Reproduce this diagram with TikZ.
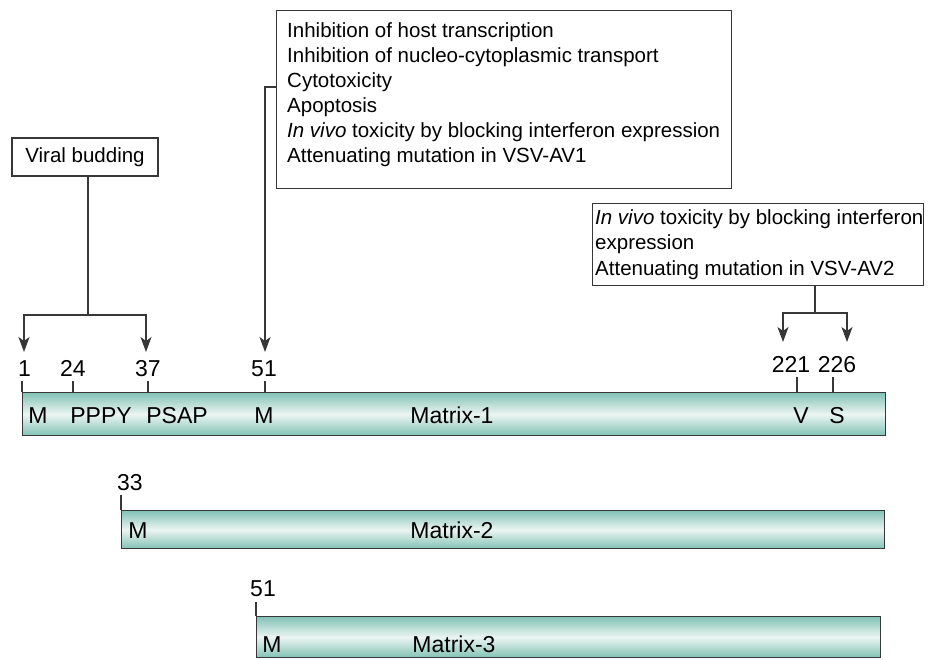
\documentclass[tikz,border=0pt]{standalone}
\usepackage{fontspec}
\setmainfont{Liberation Sans}
\usetikzlibrary{arrows.meta}
\definecolor{barC}{RGB}{130,194,182}
\definecolor{barL}{RGB}{236,245,242}
\definecolor{lineC}{RGB}{55,55,55}
\begin{document}
\begin{tikzpicture}[x=1pt,y=-1pt,
  every node/.style={font=\fontsize{20.5}{25.5}\selectfont, text=black},
  bar/.style={draw=lineC, line width=1.3pt, top color=barC, bottom color=barC, middle color=barL, inner sep=0pt, anchor=north west},
  lab/.style={anchor=base, inner sep=0pt, font=\fontsize{23}{26}\selectfont},
  num/.style={anchor=base, inner sep=0pt, font=\fontsize{23}{26}\selectfont},
  boxn/.style={draw=lineC, line width=1.1pt, inner sep=0pt},
  tickl/.style={draw=lineC, line width=1.2pt},
  conn/.style={draw=lineC, line width=1.2pt},
  arr/.style={conn, -{Stealth[length=15pt,width=11pt,inset=4pt]}}
]
\useasboundingbox (0,0) rectangle (933,659);

% bars
\node[bar, minimum width=863pt, minimum height=43pt] (bar1) at (22,392) {};
\node[bar, minimum width=763pt, minimum height=38pt] (bar2) at (121,510) {};
\node[bar, minimum width=624pt, minimum height=41pt] (bar3) at (256,616) {};

% ticks bar 1
\draw[tickl] (22,381) -- (22,392);
\draw[tickl] (73,381) -- (73,392);
\draw[tickl] (148,381) -- (148,392);
\draw[tickl] (265,381) -- (265,392);
\draw[tickl] (797,377) -- (797,392);
\draw[tickl] (833,377) -- (833,392);
% ticks bar 2 and 3
\draw[tickl] (121,495) -- (121,510);
\draw[tickl] (256,602) -- (256,616);

% numbers
\node[num] (n1) at (24.5,376) {1};
\node[num] (n24) at (73,376) {24};
\node[num] (n37) at (148,376) {37};
\node[num] (n51) at (264,376) {51};
\node[num] (n221) at (791,372) {221};
\node[num] (n226) at (837,372) {226};
\node[num] (n33) at (130,490) {33};
\node[num] (n51b) at (263,596) {51};

% bar labels
\node[lab] (m1) at (38,423) {M};
\node[lab] (pppy) at (101,423) {PPPY};
\node[lab] (psap) at (177,423) {PSAP};
\node[lab] (m51) at (264,423) {M};
\node[lab] (mx1) at (452,423) {Matrix-1};
\node[lab] (v221) at (801,423) {V};
\node[lab] (s226) at (837,423) {S};
\node[lab] (m2) at (138,538) {M};
\node[lab] (mx2) at (452,538) {Matrix-2};
\node[lab] (m3) at (272,652) {M};
\node[lab] (mx3) at (454,652) {Matrix-3};

% viral budding box
\node[boxn, minimum width=146pt, minimum height=38pt] (vb) at (85,157) {Viral budding};
\coordinate (vbj) at (88,315);
\coordinate (a1) at (24,352);
\coordinate (a37) at (146,352);
\draw[conn] (vb.south -| vbj) -- (vbj);
\draw[arr] (vbj) -| (a1);
\draw[arr] (vbj) -| (a37);

% big function box
\node[boxn, anchor=north west, minimum width=455pt, minimum height=178pt] (fx) at (276,10) {};
\node[anchor=north west, inner sep=0pt, align=left, font=\fontsize{20.5}{25}\selectfont] (fxt) at (287,22) {Inhibition of host transcription\\
Inhibition of nucleo-cytoplasmic transport\\
Cytotoxicity\\
Apoptosis\\
\textit{In vivo} toxicity by blocking interferon expression\\
Attenuating mutation in VSV-AV1};
\coordinate (fxw) at (fx.west |- 0,87);
\coordinate (a51) at (265,352);
\draw[arr] (fxw) -| (a51);

% right box
\node[boxn, anchor=north west, minimum width=331pt, minimum height=82pt] (rb) at (592,203) {};
\node[anchor=north west, inner sep=0pt, align=left, font=\fontsize{20.5}{25.5}\selectfont] (rbt) at (595,209) {\textit{In vivo} toxicity by blocking interferon\\
expression\\
Attenuating mutation in VSV-AV2};
\coordinate (rbj) at (815,313);
\coordinate (a221) at (783,342);
\coordinate (a226) at (847,342);
\draw[conn] (rb.south -| rbj) -- (rbj);
\draw[arr] (rbj) -| (a221);
\draw[arr] (rbj) -| (a226);
\end{tikzpicture}
\end{document}
